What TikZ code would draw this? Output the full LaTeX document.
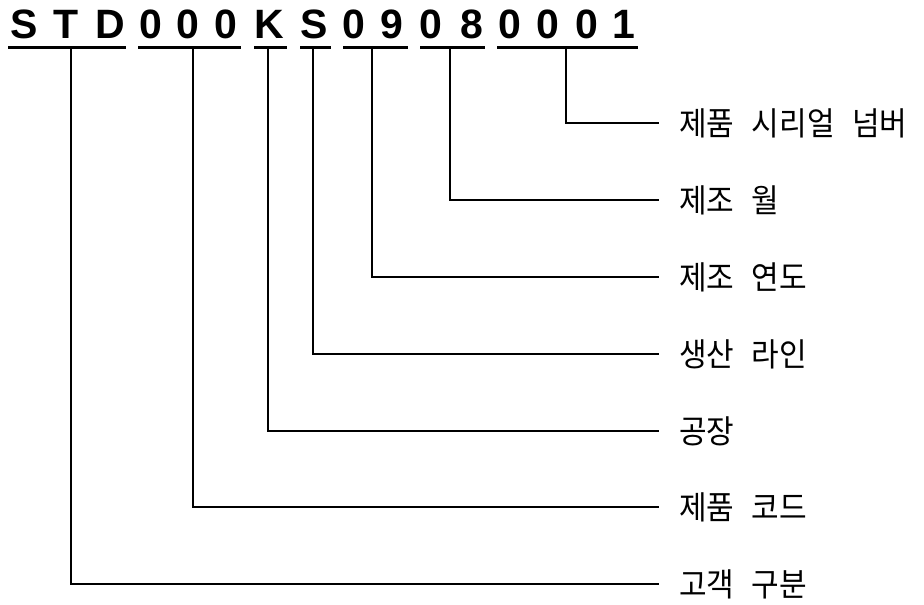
\documentclass[tikz,border=0pt]{standalone}
\usepackage{fontspec}
\setmainfont{Liberation Sans}
\newfontfamily\kor[WordSpace=2.6]{Noto Sans CJK KR}
\begin{document}
\begin{tikzpicture}[x=1pt,y=-1pt,
  ch/.style={anchor=base,inner sep=0pt,font=\fontsize{41}{41}\selectfont\bfseries},
  uline/.style={line width=2.4pt},
  conn/.style={line width=1.2pt,shorten >=20pt},
  lbl/.style={anchor=west,inner sep=0pt,font=\kor\fontsize{30}{30}\selectfont}]
\useasboundingbox[fill=white] (0,0) rectangle (924,605);
% code characters
\foreach \c/\x [count=\i] in {S/24,T/66,D/110,0/151,0/188,0/226,K/269,S/314,0/354,9/392,0/431,8/472,0/510,0/548,0/587,1/624}
  \node[ch] (c\i) at (\x,38.5) {\c};
% underlines of the groups
\draw[uline] (8,47.5) -- (126,47.5);
\draw[uline] (138,47.5) -- (241,47.5);
\draw[uline] (254,47.5) -- (287,47.5);
\draw[uline] (300,47.5) -- (331,47.5);
\draw[uline] (343,47.5) -- (408,47.5);
\draw[uline] (420,47.5) -- (485,47.5);
\draw[uline] (497,47.5) -- (638,47.5);
% connector starts
\coordinate (t1) at (566,48.5);
\coordinate (t2) at (450,48.5);
\coordinate (t3) at (372,48.5);
\coordinate (t4) at (313,48.5);
\coordinate (t5) at (268,48.5);
\coordinate (t6) at (193,48.5);
\coordinate (t7) at (71,48.5);
% labels
\node[lbl] (l1) at (679,123) {\scalebox{1}[1.08]{제품 시리얼 넘버}};
\node[lbl] (l2) at (679,200) {\scalebox{1}[1.08]{제조 월}};
\node[lbl] (l3) at (679,277) {\scalebox{1}[1.08]{제조 연도}};
\node[lbl] (l4) at (679,354) {\scalebox{1}[1.08]{생산 라인}};
\node[lbl] (l5) at (679,431) {\scalebox{1}[1.08]{공장}};
\node[lbl] (l6) at (679,507) {\scalebox{1}[1.08]{제품 코드}};
\node[lbl] (l7) at (679,584) {\scalebox{1}[1.08]{고객 구분}};
% connectors
\foreach \i in {1,...,7}
  \draw[conn] (t\i) |- (l\i.west);
\end{tikzpicture}
\end{document}
